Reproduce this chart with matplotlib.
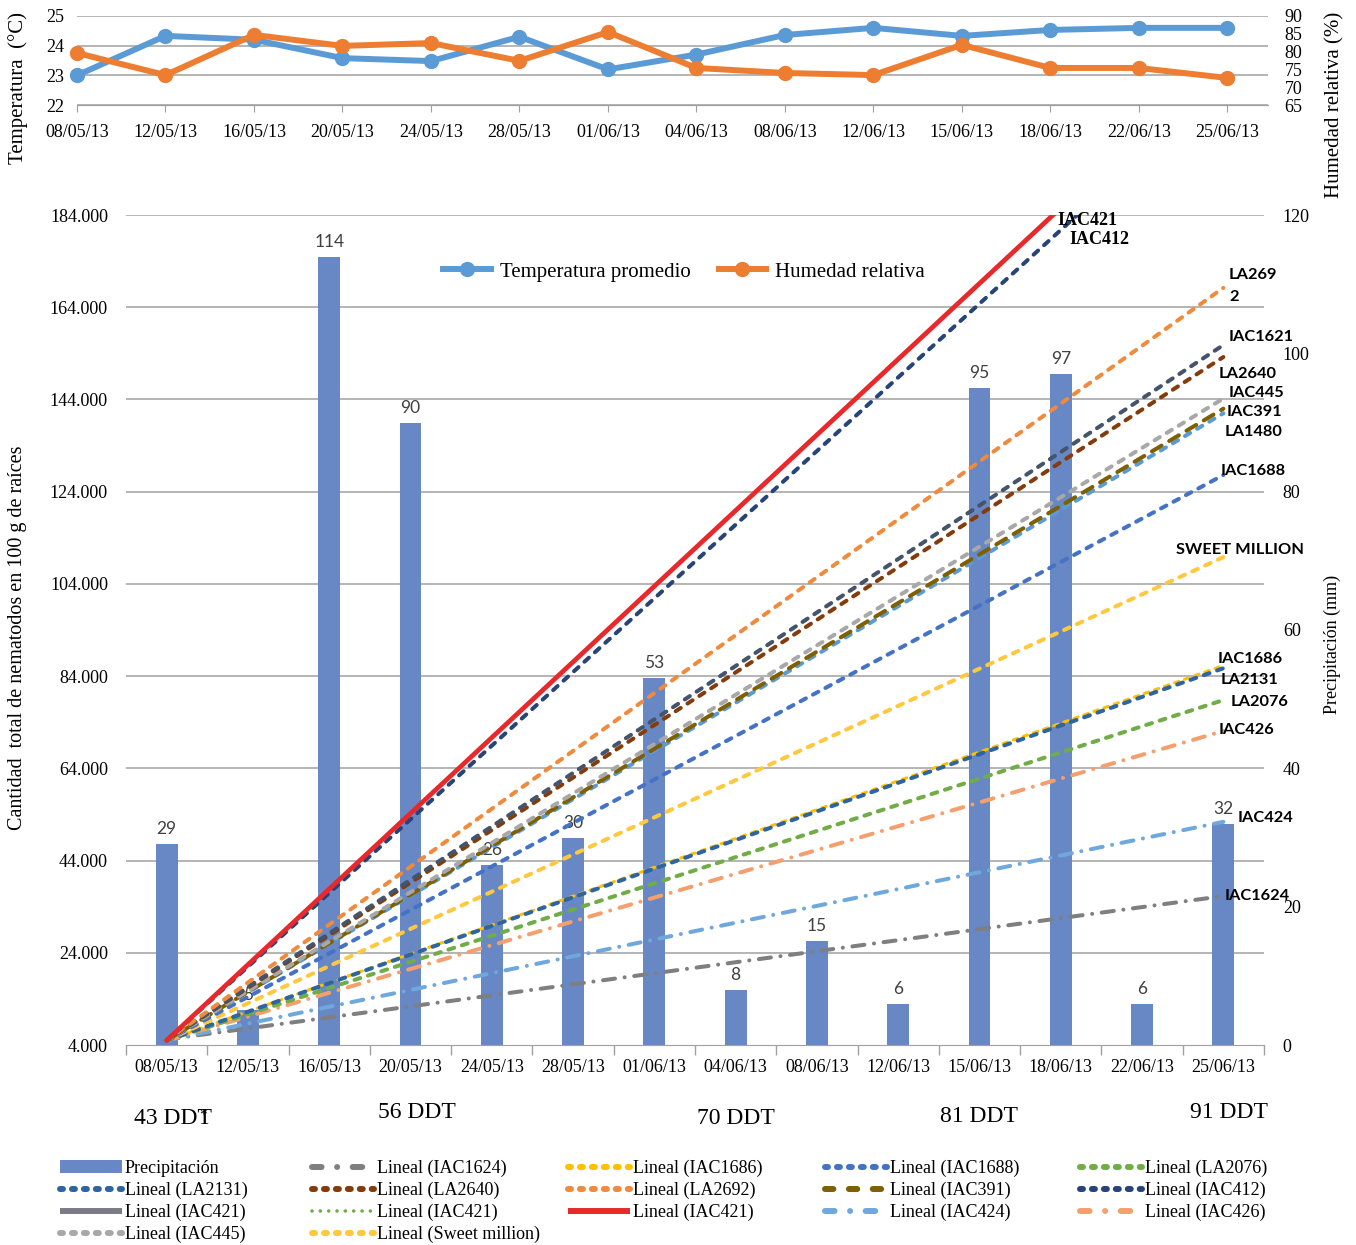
import matplotlib
matplotlib.use("Agg")
import matplotlib.pyplot as plt
import numpy as np
from matplotlib.lines import Line2D
from matplotlib.patches import Patch
from matplotlib.ticker import FuncFormatter

W, H = 1356, 1245
SERIF = ["Liberation Serif", "DejaVu Serif"]
SANS = ["Lato", "DejaVu Sans"]
plt.rcParams["font.family"] = SERIF

# ---- data ----
fechas = ["08/05/13", "12/05/13", "16/05/13", "20/05/13", "24/05/13", "28/05/13",
          "01/06/13", "04/06/13", "08/06/13", "12/06/13", "15/06/13", "18/06/13",
          "22/06/13", "25/06/13"]
temperatura = [23.0, 24.33, 24.2, 23.58, 23.48, 24.3, 23.2, 23.7, 24.36, 24.6,
               24.33, 24.53, 24.6, 24.6]
humedad = [79.6, 73.4, 84.7, 81.6, 82.4, 77.4, 85.5, 75.4, 74.0, 73.4, 81.9,
           75.4, 75.4, 72.6]
precipitacion = [29, 5, 114, 90, 26, 30, 53, 8, 15, 6, 95, 97, 6, 32]

# linear trend lines (nematodes / 100 g roots), first and last sampling date
# drawn bottom to top
lineas = ["IAC1624", "IAC424", "IAC426", "LA2076", "IAC1686", "LA2131",
          "SWEET MILLION", "IAC1688", "LA1480", "IAC391", "IAC445", "LA2640",
          "IAC1621", "LA2692", "IAC412", "IAC421"]
inicio = [5200, 5000, 5000, 5000, 5000, 5000, 5000, 5000, 5000, 5000, 5000,
          5000, 5000, 5000, 5000, 5000]
fin = [36300, 52400, 72100, 78800, 86300, 85700, 109800, 127600, 141000,
       142000, 144200, 153200, 155800, 168200, 212700, 218400]
colores = ["#7F7F7F", "#6FA8DC", "#F4A06E", "#70AD47", "#FFC000", "#2E64A0",
           "#FFC83D", "#4472C4", "#5B9BD5", "#7F6000", "#A8A8A8", "#843C0C",
           "#44546A", "#F08A3C", "#264478", "#E8282B"]
estilos = ["dashdot", "dashdot", "dashdot", "dash", "dash", "dash", "dash",
           "dash", "dash", "longdash", "dash", "dash", "dash", "dash", "dash",
           "solid"]

# labels at the right end of the trend lines (x in category units, y in left axis units)
etiquetas = ["IAC421", "IAC412", "LA269", "2", "IAC1621", "LA2640", "IAC445",
             "IAC391", "LA1480", "IAC1688", "SWEET MILLION", "IAC1686", "LA2131",
             "LA2076", "IAC426", "IAC424", "IAC1624"]
etiq_x = [10.96, 11.11, 13.07, 13.07, 13.07, 12.94, 13.07, 13.04, 13.02, 12.97,
          12.42, 12.93, 12.97, 13.09, 12.94, 13.17, 13.02]
etiq_y = [182700, 178600, 171000, 166200, 157500, 149500, 145400, 141300,
          136900, 128500, 111400, 87700, 83200, 78400, 72300, 53200, 36300]

ddt_texto = ["43 DDT", "56 DDT", "70 DDT", "81 DDT", "91 DDT"]
ddt_idx = [0, 3, 7, 10, 13]
ddt_dx = [6, 6, 0, 0, 6]
ddt_dy = [-73, -67, -73, -71, -67]

# legend (as in the reference, row by row)
ley_textos = ["IAC1624", "IAC1686", "IAC1688", "LA2076", "LA2131", "LA2640",
              "LA2692", "IAC391", "IAC412", "IAC421", "IAC421", "IAC421",
              "IAC424", "IAC426", "IAC445", "Sweet million"]
ley_colores = ["#7F7F7F", "#FFC000", "#4472C4", "#70AD47", "#2E64A0", "#843C0C",
               "#F08A3C", "#7F6000", "#264478", "#7B7B85", "#70AD47", "#E8282B",
               "#6FA8DC", "#F4A06E", "#A8A8A8", "#FFC83D"]
ley_estilos = ["dashdot", "dash", "dash", "dash", "dash", "dash", "dash",
               "longdash", "dash", "solid", "dot", "solid", "dashdot", "dashdot",
               "dash", "dash"]

AZUL_BARRA = "#6787C5"
GRIS = "#A0A0A0"

PAT_PLOT = {"solid": "-", "dash": (0, (1.5, 2.0)), "longdash": (0, (2.8, 2.2)),
            "dashdot": (0, (3.0, 2.4, 0.01, 2.4))}
PAT_LEY = {"solid": "-", "dash": (0, (0.5, 1.5)), "longdash": (0, (1.4, 2.6)),
           "dashdot": (0, (1.6, 2.6, 0.01, 2.6)), "dot": (0, (0.01, 2.3))}

fig = plt.figure(figsize=(W / 100, H / 100), dpi=100)

# ---------------- top chart: temperature / humidity ----------------
ax_t = fig.add_axes([77 / W, 1 - 105 / H, (1268 - 77) / W, (105 - 16) / H])
ax_h = ax_t.twinx()
xt = np.arange(len(fechas))

ax_t.plot(xt, temperatura, color="#5B9BD5", lw=4.3, marker="o", ms=10,
          solid_joinstyle="round", clip_on=False, zorder=3)
ax_h.plot(xt, humedad, color="#ED7D31", lw=4.3, marker="o", ms=10,
          solid_joinstyle="round", clip_on=False, zorder=3)

ax_t.set_xlim(0, 13.46)
ax_t.set_ylim(22, 25)
ax_t.set_yticks([22, 23, 24, 25])
ax_h.set_ylim(65, 90)
ax_h.set_yticks(range(65, 91, 5))
ax_t.set_xticks(xt)
ax_t.set_xticklabels(fechas)
ax_t.grid(axis="y", color=GRIS, lw=1.1)
ax_t.set_axisbelow(True)
for a in (ax_t, ax_h):
    for s in ("top", "left", "right"):
        a.spines[s].set_visible(False)
    a.spines["bottom"].set_color(GRIS)
ax_t.tick_params(axis="x", length=5, color=GRIS, labelsize=13, pad=8.5)
ax_t.tick_params(axis="y", length=0, labelsize=13, pad=9)
ax_h.tick_params(axis="y", length=0, labelsize=13, pad=12)

fig.text(18 / W, 1 - 88 / H, "Temperatura  (°C)", rotation=90, ha="center",
         va="center", fontsize=15)
fig.text(1335 / W, 1 - 105 / H, "Humedad relativa (%)", rotation=90, ha="center",
         va="center", fontsize=15)

h_temp = Line2D([], [], color="#5B9BD5", lw=4.3, marker="o", ms=10)
h_hum = Line2D([], [], color="#ED7D31", lw=4.3, marker="o", ms=10)
fig.legend([h_temp, h_hum], ["Temperatura promedio", "Humedad relativa"],
           loc="center left", bbox_to_anchor=(424 / W, 1 - 272 / H), ncol=2,
           frameon=False, fontsize=15, handlelength=2.3, handletextpad=0.43,
           columnspacing=1.35)

# ---------------- bottom chart: nematodes + precipitation ----------------
ax = fig.add_axes([126 / W, 1 - 1045 / H, (1264 - 126) / W, (1045 - 215) / H])
ax2 = ax.twinx()
ax.set_zorder(ax2.get_zorder() + 1)
ax.patch.set_visible(False)

x = np.arange(len(fechas))
ax.set_xlim(-0.5, 13.5)
ax.set_ylim(4000, 184000)
ax2.set_ylim(0, 120)

# gridlines of the left axis, drawn behind the bars
left_ticks = np.arange(4000, 184001, 20000)
y0, y1 = ax.get_ylim()
r0, r1 = ax2.get_ylim()
for t in left_ticks[1:]:
    ax2.axhline(r0 + (t - y0) / (y1 - y0) * (r1 - r0), color=GRIS, lw=1.1, zorder=0)

barras = ax2.bar(x, precipitacion, width=0.27, color=AZUL_BARRA, zorder=2)
ax2.bar_label(barras, labels=[str(v) for v in precipitacion], padding=5,
              fontsize=12.5, color="#404040", family=SANS)

for nombre, a, b, c, e in zip(lineas, inicio, fin, colores, estilos):
    lw = 2.2 if nombre == "IAC1686" else (3.4 if e == "solid" else 2.9)
    ax.plot([x[0], x[-1]], [a, b], color=c, lw=lw, ls=PAT_PLOT[e],
            dash_capstyle="round", solid_capstyle="round")

for txt, tx, ty in zip(etiquetas, etiq_x, etiq_y):
    if txt in ("IAC421", "IAC412"):
        ax.text(tx, ty, txt, fontsize=13, fontweight="bold", family=SERIF,
                ha="left", va="center", color="black", zorder=5)
    else:
        ax.text(tx, ty, txt, fontsize=11.8, fontweight="bold", family=SANS,
                ha="left", va="center", color="black", zorder=5)

ax.set_yticks(left_ticks)
ax.yaxis.set_major_formatter(FuncFormatter(lambda v, p: f"{v / 1000:.3f}"))
ax2.set_yticks(range(0, 121, 20))
ax.set_xticks(x)
ax.set_xticklabels(fechas)
ax.set_xticks(np.arange(-0.5, 14, 1), minor=True)
ax.tick_params(axis="x", which="major", length=0, labelsize=13, pad=10)
ax.tick_params(axis="x", which="minor", length=7, color=GRIS, width=1)
ax.tick_params(axis="y", length=0, labelsize=13, pad=13)
ax2.tick_params(axis="y", length=0, labelsize=13, pad=13.5)
for a in (ax, ax2):
    for s in ("top", "left", "right"):
        a.spines[s].set_visible(False)
ax.spines["bottom"].set_color(GRIS)
ax2.spines["bottom"].set_visible(False)

fig.text(18 / W, 1 - 638 / H, "Cantidad  total de nematodos en 100 g de raíces",
         rotation=90, ha="center", va="center", fontsize=14.5)
fig.text(1332 / W, 1 - 644 / H, "Precipitación (mm)", rotation=90, ha="center",
         va="center", fontsize=13)

for txt, i, dx, dy in zip(ddt_texto, ddt_idx, ddt_dx, ddt_dy):
    ax.annotate(txt, xy=(i, 0), xycoords=("data", "axes fraction"),
                xytext=(dx, dy), textcoords="offset pixels", ha="center",
                va="center", fontsize=17)
ax.annotate("*", xy=(0, 0), xycoords=("data", "axes fraction"),
            xytext=(36, -70), textcoords="offset pixels", ha="center",
            va="center", fontsize=11)

# ---------------- legend ----------------
handles = [Patch(facecolor=AZUL_BARRA, edgecolor="none")]
labels = ["Precipitación"]
for t, c, e in zip(ley_textos, ley_colores, ley_estilos):
    lw = 2.6 if e == "dot" else 4.3
    handles.append(Line2D([], [], color=c, lw=lw, ls=PAT_LEY[e],
                          dash_capstyle="round", solid_capstyle="butt"))
    labels.append(f"Lineal ({t})")

col_x = [60, 312, 568, 825, 1080]
for c, cx in enumerate(col_x):
    hs = handles[c::5]
    ls_ = labels[c::5]
    fig.legend(hs, ls_, loc="upper left", bbox_to_anchor=(cx / W, 1 - 1160 / H),
               frameon=False, fontsize=13, handlelength=3.45,
               handletextpad=0.15, labelspacing=0.26, borderpad=0,
               borderaxespad=0)

fig.savefig("out.png", dpi=100)
